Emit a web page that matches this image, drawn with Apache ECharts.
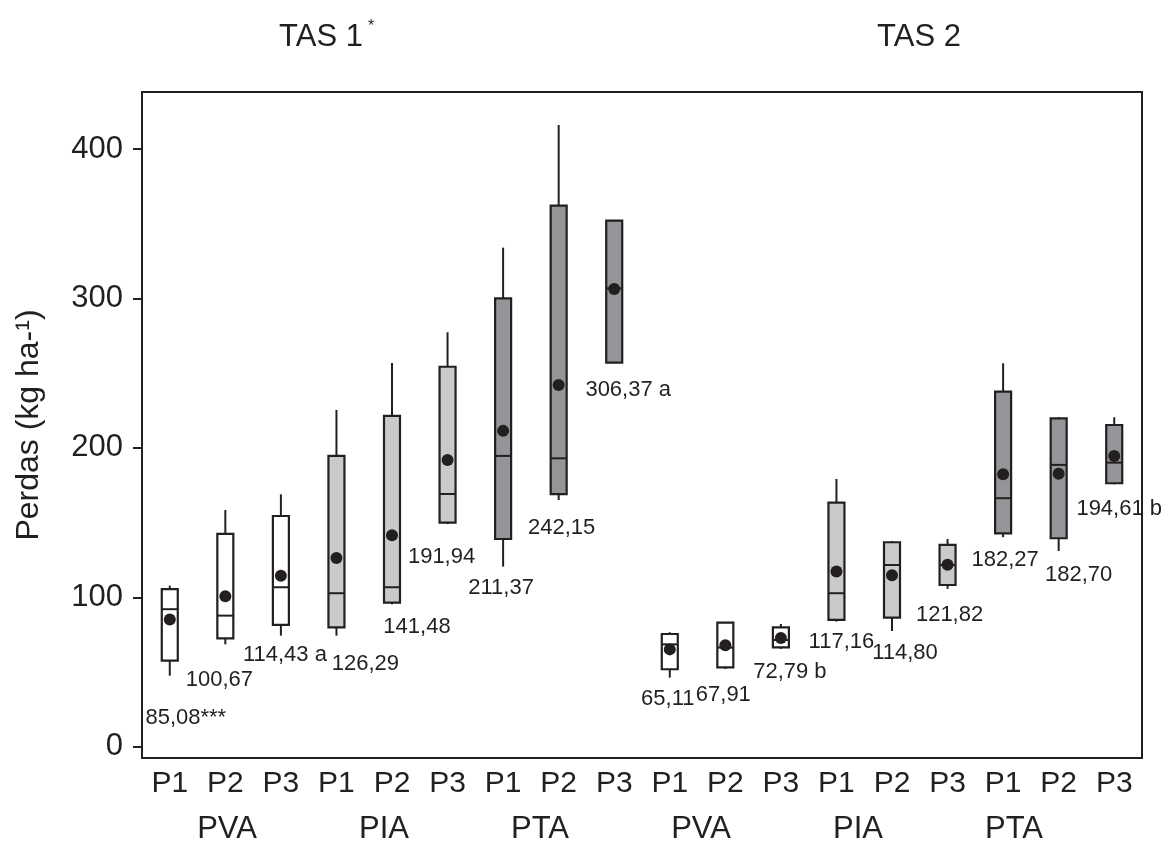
<!DOCTYPE html>
<html>
<head>
<meta charset="utf-8">
<script src="https://cdn.jsdelivr.net/npm/echarts@6/dist/echarts.min.js"></script>
<style>
  html, body { margin: 0; padding: 0; background: #fff; }
  #chart { width: 1164px; height: 848px; }
</style>
</head>
<body>
<div id="chart"></div>
<script>
// Soil losses (kg ha-1) per treatment: two seasons (TAS 1, TAS 2),
// three systems (PVA, PIA, PTA) and three periods (P1, P2, P3).
const categories = ['P1', 'P2', 'P3', 'P1', 'P2', 'P3', 'P1', 'P2', 'P3',
                    'P1', 'P2', 'P3', 'P1', 'P2', 'P3', 'P1', 'P2', 'P3'];
const systems = ['PVA', 'PVA', 'PVA', 'PIA', 'PIA', 'PIA', 'PTA', 'PTA', 'PTA',
                 'PVA', 'PVA', 'PVA', 'PIA', 'PIA', 'PIA', 'PTA', 'PTA', 'PTA'];

const whiskerLow  = [47.5, 68.5, 74.3, 74.3, 95.3, 149.0, 120.5, 165.1, 257.0,
                     46.2, 52.0, 65.4, 83.7, 77.4, 105.6, 140.2, 131.0, 175.6];
const quartile1   = [57.6, 72.5, 81.5, 79.9, 96.4, 149.9, 139.0, 169.0, 257.0,
                     51.8, 53.1, 66.5, 84.8, 86.3, 108.2, 142.8, 139.5, 176.3];
const medians     = [92.0, 87.7, 106.7, 102.7, 106.7, 169.1, 194.6, 193.0, 306.8,
                     68.5, 66.3, 71.4, 102.7, 121.6, 121.6, 166.3, 188.6, 190.1];
const quartile3   = [105.4, 142.4, 154.4, 194.6, 221.4, 254.3, 300.1, 362.1, 352.1,
                     75.4, 83.0, 79.9, 163.3, 136.8, 135.0, 237.6, 219.8, 215.3];
const whiskerHigh = [107.8, 158.4, 168.9, 225.4, 256.8, 277.4, 334.0, 416.1, 352.1,
                     76.6, 83.0, 82.1, 179.2, 137.7, 139.0, 256.6, 220.5, 220.5];
const means       = [85.08, 100.67, 114.43, 126.29, 141.48, 191.94, 211.37, 242.15, 306.37,
                     65.11, 67.91, 72.79, 117.16, 114.80, 121.82, 182.27, 182.70, 194.61];
const meanMarks   = ['***', '', ' a', '', '', '', '', '', ' a',
                     '', '', ' b', '', '', '', '', '', ' b'];

const yTicks = [0, 100, 200, 300, 400];

// Label placement next to each mean dot, in pixels
const labelOffsets = [[16, 98], [-6, 84], [4, 79], [29, 106], [25, 92], [-6, 97], [-2, 157], [3, 143], [14, 101],
                      [-2, 50], [-2, 50], [9, 34], [5, 70], [13, 78], [2, 50], [2, 86], [20, 101], [5, 53]];

const INK = '#231f20';
const FONT = '"Liberation Sans", Arial, Helvetica, sans-serif';
const systemFill = { PVA: '#ffffff', PIA: '#c9cacc', PTA: '#939598' };

const boxData = categories.map((c, i) =>
  [i, whiskerLow[i], quartile1[i], medians[i], quartile3[i], whiskerHigh[i]]);

const meanData = means.map((m, i) => ({
  value: [i, m],
  label: { offset: labelOffsets[i] }
}));

function fmt(v) { return v.toFixed(2).replace('.', ','); }

function textEl(text, x, y, size) {
  return {
    type: 'text', x: x, y: y, z: 10,
    style: { text: text, fontSize: size, fontFamily: FONT, fill: INK, textAlign: 'center', textVerticalAlign: 'middle' }
  };
}

const chart = echarts.init(document.getElementById('chart'), null, { renderer: 'canvas' });

chart.setOption({
  backgroundColor: '#ffffff',
  animation: false,
  textStyle: { fontFamily: FONT, color: INK },
  grid: {
    left: 142, right: 22, top: 92, bottom: 90,
    show: true, borderColor: INK, borderWidth: 2, backgroundColor: 'transparent'
  },
  xAxis: {
    type: 'category',
    data: categories,
    boundaryGap: true,
    axisLine: { onZero: false, lineStyle: { color: INK, width: 2 } },
    axisTick: { alignWithLabel: true, length: 8, lineStyle: { color: INK, width: 2 } },
    axisLabel: { fontSize: 30, color: INK, fontFamily: FONT, margin: 11, interval: 0 },
    splitLine: { show: false }
  },
  yAxis: {
    type: 'value',
    min: -7.6,
    max: 438.2,
    name: 'Perdas (kg ha-¹)',
    nameLocation: 'middle',
    nameGap: 97,
    nameTextStyle: { fontSize: 32, color: INK, fontFamily: FONT },
    axisLine: { show: true, lineStyle: { color: INK, width: 2 } },
    axisTick: { show: true, length: 9, customValues: yTicks, lineStyle: { color: INK, width: 2 } },
    axisLabel: { fontSize: 31, color: INK, fontFamily: FONT, margin: 19, customValues: yTicks },
    splitLine: { show: false }
  },
  graphic: [
    textEl('TAS 1', 321, 37, 31),
    textEl('*', 371, 27, 16),
    textEl('TAS 2', 919, 37, 31),
    textEl('PVA', 227, 829, 31),
    textEl('PIA', 384, 829, 31),
    textEl('PTA', 540, 829, 31),
    textEl('PVA', 701, 829, 31),
    textEl('PIA', 858, 829, 31),
    textEl('PTA', 1014, 829, 31)
  ],
  series: [
    {
      // box-and-whisker marks
      type: 'custom',
      data: boxData,
      encode: { x: 0, y: [1, 2, 3, 4, 5] },
      z: 2,
      renderItem: function (params, api) {
        const i = api.value(0);
        const x = api.coord([i, 0])[0];
        const yLow = api.coord([i, api.value(1)])[1];
        const yQ1 = api.coord([i, api.value(2)])[1];
        const yMed = api.coord([i, api.value(3)])[1];
        const yQ3 = api.coord([i, api.value(4)])[1];
        const yHigh = api.coord([i, api.value(5)])[1];
        const half = 8;
        const stroke = { stroke: INK, lineWidth: 2 };
        return {
          type: 'group',
          children: [
            { type: 'line', shape: { x1: x, y1: yHigh, x2: x, y2: yQ3 }, style: stroke },
            { type: 'line', shape: { x1: x, y1: yQ1, x2: x, y2: yLow }, style: stroke },
            { type: 'rect', shape: { x: x - half, y: yQ3, width: half * 2, height: yQ1 - yQ3 },
              style: { fill: systemFill[systems[i]], stroke: INK, lineWidth: 2.2 } },
            { type: 'line', shape: { x1: x - half, y1: yMed, x2: x + half, y2: yMed }, style: stroke }
          ]
        };
      }
    },
    {
      // means with their values
      type: 'scatter',
      data: meanData,
      symbol: 'circle',
      symbolSize: 12,
      z: 3,
      itemStyle: { color: INK, opacity: 1 },
      label: {
        show: true,
        position: 'inside',
        fontSize: 22,
        fontFamily: FONT,
        color: INK,
        opacity: 1,
        formatter: function (p) { return fmt(means[p.dataIndex]) + meanMarks[p.dataIndex]; }
      },
      emphasis: { disabled: true }
    }
  ]
});
</script>
</body>
</html>
